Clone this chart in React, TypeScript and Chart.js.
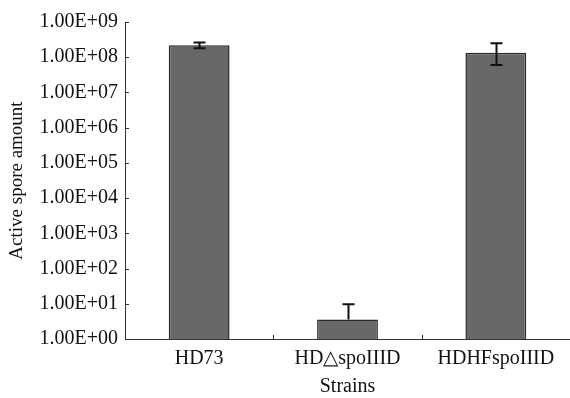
import React, { useEffect, useRef } from "react";
import { Chart, registerables } from "chart.js";

Chart.register(...registerables);

const categories = ["HD73", "HD\u25B3spoIIID", "HDHFspoIIID"];
const means = [2.2e8, 3.6, 1.35e8];
const errUpper = [2.6e8, 9.7, 2.5e8];
const errLower: (number | null)[] = [1.8e8, null, 6.0e7];
const yTickValues = [1, 1e1, 1e2, 1e3, 1e4, 1e5, 1e6, 1e7, 1e8, 1e9];
const yTickLabels = [
  "1.00E+00",
  "1.00E+01",
  "1.00E+02",
  "1.00E+03",
  "1.00E+04",
  "1.00E+05",
  "1.00E+06",
  "1.00E+07",
  "1.00E+08",
  "1.00E+09",
];
const yTitle = "Active spore amount";
const xTitle = "Strains";

const FONT = "'Liberation Serif', 'Times New Roman', serif";

const decorPlugin = {
  id: "decor",
  afterDatasetsDraw(chart: any) {
    const { ctx, chartArea, scales } = chart;
    const x = scales.x;
    const y = scales.y;
    ctx.save();
    // error bars
    ctx.strokeStyle = "#111";
    ctx.lineWidth = 2;
    const cap = 6;
    categories.forEach((_, i) => {
      const px = Math.round(x.getPixelForValue(i)) + 0.5;
      const top = y.getPixelForValue(errUpper[i]);
      const lowVal = errLower[i];
      const low = y.getPixelForValue(lowVal != null ? lowVal : means[i]);
      ctx.beginPath();
      ctx.moveTo(px, top);
      ctx.lineTo(px, low);
      ctx.moveTo(px - cap, top);
      ctx.lineTo(px + cap, top);
      if (lowVal != null) {
        ctx.moveTo(px - cap, low);
        ctx.lineTo(px + cap, low);
      }
      ctx.stroke();
    });
    // inward ticks on y axis
    ctx.strokeStyle = "#333";
    ctx.lineWidth = 1;
    ctx.beginPath();
    yTickValues.forEach((v) => {
      const py = Math.round(y.getPixelForValue(v)) + 0.5;
      ctx.moveTo(chartArea.left, py);
      ctx.lineTo(chartArea.left + 4, py);
    });
    // inward ticks between categories
    for (let i = 1; i < categories.length; i++) {
      const px =
        Math.round((x.getPixelForValue(i - 1) + x.getPixelForValue(i)) / 2) + 0.5;
      ctx.moveTo(px, chartArea.bottom);
      ctx.lineTo(px, chartArea.bottom - 4);
    }
    ctx.stroke();
    ctx.restore();
  },
};

export default function App() {
  const ref = useRef<HTMLCanvasElement | null>(null);
  useEffect(() => {
    if (!ref.current) return;
    const chart = new Chart(ref.current, {
      type: "bar",
      data: {
        labels: categories,
        datasets: [
          {
            data: means,
            backgroundColor: "#686868",
            borderColor: "#2a2a2a",
            borderWidth: 1.5,
            barPercentage: 0.41,
            categoryPercentage: 1,
          },
        ],
      },
      options: {
        responsive: false,
        animation: false,
        layout: { padding: { top: 22, left: 0, right: 0, bottom: 0 } },
        plugins: {
          legend: { display: false },
          tooltip: { enabled: false },
        },
        scales: {
          x: {
            grid: { drawOnChartArea: false, drawTicks: false },
            border: { display: true, color: "#333", width: 1 },
            ticks: {
              color: "#111",
              font: { family: FONT, size: 20 },
              padding: 8,
            },
            title: {
              display: true,
              text: xTitle,
              color: "#111",
              font: { family: FONT, size: 20, lineHeight: 1.1 },
              padding: { top: 0, bottom: 0 },
            },
            afterFit: (scale: any) => {
              scale.height = 59;
            },
          },
          y: {
            type: "logarithmic",
            min: 1,
            max: 1e9,
            grid: { drawOnChartArea: false, drawTicks: false },
            border: { display: true, color: "#333", width: 1 },
            afterBuildTicks: (scale: any) => {
              scale.ticks = yTickValues.map((v) => ({ value: v }));
            },
            ticks: {
              color: "#111",
              font: { family: FONT, size: 20 },
              padding: 7,
              autoSkip: false,
              callback: (_v: any, i: number) => yTickLabels[i],
            },
            title: {
              display: true,
              text: yTitle,
              color: "#111",
              font: { family: FONT, size: 19, lineHeight: 1.2 },
              padding: { top: 6, bottom: 0 },
            },
            afterFit: (scale: any) => {
              scale.width = 125;
            },
          },
        },
      },
      plugins: [decorPlugin],
    } as any);
    return () => chart.destroy();
  }, []);
  return (
    <div style={{ position: "fixed", left: 0, top: 0, width: 570, height: 398, background: "#fff" }}>
      <canvas ref={ref} width={570} height={398} />
    </div>
  );
}
